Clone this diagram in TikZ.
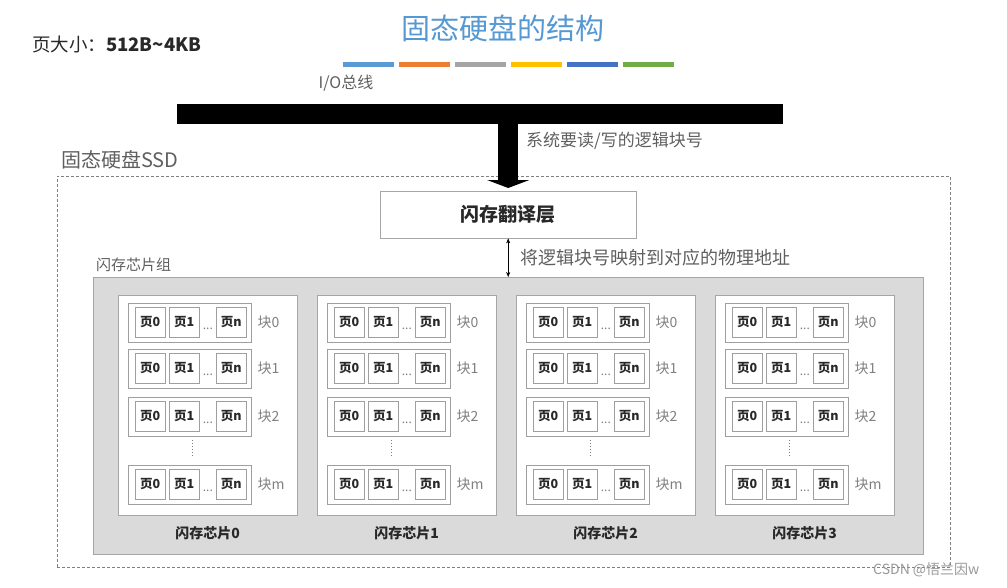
\documentclass[tikz,border=0pt]{standalone}
\usepackage{fontspec}
\setmainfont{Noto Sans CJK SC}
\usetikzlibrary{arrows.meta,positioning}
\definecolor{titleblue}{RGB}{86,152,210}
\definecolor{barblue}{RGB}{91,155,213}
\definecolor{barorange}{RGB}{237,125,49}
\definecolor{bargray}{RGB}{165,165,165}
\definecolor{baryellow}{RGB}{255,192,0}
\definecolor{bardblue}{RGB}{68,114,196}
\definecolor{bargreen}{RGB}{112,173,71}
\definecolor{ink}{RGB}{40,40,40}
\definecolor{note}{RGB}{95,95,95}
\definecolor{panelgray}{RGB}{218,218,218}
\tikzset{
  fs/.style={font=\fontsize{#1}{#1}\selectfont},
  chipbox/.style={draw=gray!70,fill=white,minimum width=179pt,minimum height=220pt,inner sep=0pt,anchor=north west},
  blockbox/.style={draw=gray!75,fill=white,minimum width=123pt,minimum height=39pt,inner sep=0pt,anchor=north west},
  pagebox/.style={draw=gray!75,fill=white,minimum width=30pt,minimum height=30pt,inner sep=0pt,anchor=north west,font=\fontsize{12.5}{12.5}\selectfont\bfseries,text=ink},
  lbl/.style={anchor=west,inner sep=0pt,text=note},
}

\begin{document}
\begin{tikzpicture}[x=1pt,y=-1pt]
  \useasboundingbox (0,0) rectangle (1007,587);
  % title and colour bars
  \node[fs=29,text=titleblue] (title) at (503,28) {固态硬盘的结构};
  \foreach \c [count=\i from 0] in {barblue,barorange,bargray,baryellow,bardblue,bargreen}
    \node[fill=\c,minimum width=51pt,minimum height=4.5pt,inner sep=0pt,anchor=north west] (bar\i) at (343+\i*56,62) {};
  \node[lbl,fs=18.5,text=ink] (pagesize) at (32,45) {页大小：\textbf{512B\textasciitilde4KB}};

  % bus
  \node[fs=16,text=note] (iolabel) at (346,83) {I/O总线};
  \node[fill=black,minimum width=606pt,minimum height=20pt,inner sep=0pt,anchor=north west] (bus) at (177,104) {};
  \node[lbl,fs=17] (readlabel) at (526,141) {系统要读/写的逻辑块号};

  % ssd
  \node[lbl,fs=20] (ssdlabel) at (61,160) {固态硬盘SSD};
  \node[draw=gray,dash pattern=on 3pt off 2pt,minimum width=893pt,minimum height=391pt,inner sep=0pt,anchor=north west] (ssd) at (57,176) {};
  \node[draw=gray!70,fill=white,minimum width=256pt,minimum height=47pt,inner sep=0pt,anchor=north west,fs=19,text=ink] (ftl) at (380,191) {\bfseries 闪存翻译层};
  \draw[line width=20pt,-{Triangle[width=42pt,length=8pt]}] (bus.south -| ftl.north) -- ([yshift=3pt]ftl.north);

  \node[lbl,fs=15] (grouplabel) at (96,265) {闪存芯片组};
  \node[draw=gray!70,fill=panelgray,minimum width=830pt,minimum height=277pt,inner sep=0pt,anchor=north west] (panel) at (93,277) {};
  \draw[{Stealth[length=5pt,width=4pt]}-{Stealth[length=5pt,width=4pt]}] (ftl.south) -- (ftl.south |- panel.north);
  \node[lbl,fs=18] (maplabel) at (520,258) {将逻辑块号映射到对应的物理地址};

  % chips
  \foreach \c in {0,...,3}{
    \node[chipbox] (chip\c) at (118+199*\c,295) {};
    \node[fs=14,text=ink] (chiplabel\c) at ([yshift=-18pt]chip\c.south) {\bfseries 闪存芯片\c};
    \foreach \b/\y in {0/8,1/54,2/102,m/170}{
      \node[blockbox] (blk\c\b) at ([xshift=10pt,yshift=-\y pt]chip\c.north west) {};
      \node[pagebox] (p\c\b0) at ([xshift=7pt,yshift=-4pt]blk\c\b.north west) {页0};
      \node[pagebox] (p\c\b1) at ([xshift=41pt,yshift=-4pt]blk\c\b.north west) {页1};
      \node[pagebox] (p\c\b n) at ([xshift=88pt,yshift=-4pt]blk\c\b.north west) {页n};
      \node[anchor=south,inner sep=0pt,fs=12,text=gray] (dots\c\b) at ([xshift=8.5pt,yshift=8pt]p\c\b1.south east) {...};
      \node[lbl,fs=14,text=gray] (blklabel\c\b) at ([xshift=6pt]blk\c\b.east) {块\b};
    }
    \draw[gray,dash pattern=on 1pt off 2pt] ([xshift=64pt,yshift=-4pt]blk\c2.south west) -- ([xshift=64pt,yshift=7pt]blk\c m.north west);
  }

  \node[lbl,fs=14,text=gray!80] (csdn) at (873,570) {CSDN @悟兰因w};
\end{tikzpicture}
\end{document}
